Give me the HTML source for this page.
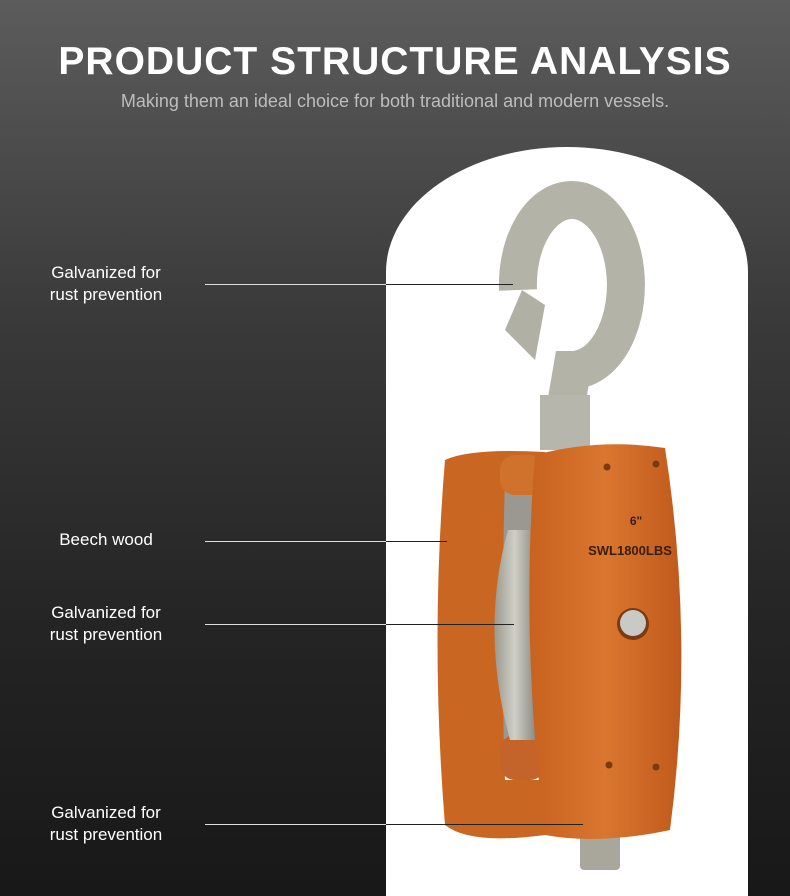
<!DOCTYPE html>
<html><head><style>
html,body{margin:0;padding:0;width:790px;height:896px;overflow:hidden}
body{position:relative;background:linear-gradient(180deg,#5c5c5c 0%,#3a3a3a 35%,#242424 70%,#181818 100%);font-family:"Liberation Sans",sans-serif}
h1{position:absolute;top:40px;left:0;width:790px;text-align:center;margin:0;color:#fff;font-size:39px;font-weight:bold;letter-spacing:1px}
.sub{position:absolute;top:91px;left:0;width:790px;text-align:center;color:#bdbdbd;font-size:18px}
.arch{position:absolute;left:386px;top:147px;width:362px;height:749px;background:#fff;border-radius:181px 181px 0 0/125px 125px 0 0}
.lab{position:absolute;color:#fff;font-size:17px;line-height:22px;text-align:center;width:150px;left:31px}
.ln{position:absolute;height:1px;background:#ddd}
.lb{position:absolute;height:1px;background:#222}
</style></head><body>
<h1>PRODUCT STRUCTURE ANALYSIS</h1>
<div class="sub">Making them an ideal choice for both traditional and modern vessels.</div>
<div class="arch"></div>
<svg width="790" height="896" style="position:absolute;left:0;top:0">
<defs>
<linearGradient id="w" x1="0" x2="1"><stop offset="0" stop-color="#c8621f"/><stop offset=".5" stop-color="#d9762f"/><stop offset="1" stop-color="#c05a1c"/></linearGradient>
<linearGradient id="m" x1="0" x2="1"><stop offset="0" stop-color="#9a9a90"/><stop offset=".5" stop-color="#cfcfc6"/><stop offset="1" stop-color="#8d8d85"/></linearGradient>
</defs>
<path d="M518 290 A54 85 0 1 1 572 370 L566 405" fill="none" stroke="#b3b3a8" stroke-width="38"/>
<path d="M505 330 L522 290 L545 305 L535 360 Z" fill="#b0b0a5"/>
<rect x="540" y="395" width="50" height="55" fill="#b6b6ac"/>
<rect x="580" y="820" width="40" height="50" rx="4" fill="#a9a69c"/>
<circle cx="603" cy="832" r="6" fill="#fff"/>
<rect x="500" y="490" width="45" height="250" fill="#9a9890"/>
<path d="M445 460 Q470 448 545 452 L545 480 L505 480 Q500 640 505 780 L545 780 L545 835 Q470 845 445 825 Q430 640 445 460Z" fill="#c96622"/>
<rect x="500" y="455" width="45" height="40" rx="15" fill="#d0712c"/>
<rect x="500" y="735" width="45" height="45" rx="15" fill="#c4642a"/>
<path d="M508 530 Q480 630 510 740 L535 740 L535 530Z" fill="url(#m)"/>
<path d="M535 455 Q600 438 665 448 Q695 640 670 830 Q600 845 545 835 Q520 640 535 455Z" fill="url(#w)"/>
<text x="636" y="525" font-size="12" font-weight="bold" fill="#3a1d0a" text-anchor="middle">6"</text>
<text x="630" y="555" font-size="13" font-weight="bold" fill="#3a1d0a" text-anchor="middle">SWL1800LBS</text>
<circle cx="633" cy="624" r="16" fill="#7a3a12"/><circle cx="633" cy="623" r="13" fill="#c9c9c5"/>
<circle cx="607" cy="467" r="3.5" fill="#7a3a12"/><circle cx="656" cy="464" r="3.5" fill="#7a3a12"/>
<circle cx="609" cy="765" r="3.5" fill="#7a3a12"/><circle cx="656" cy="767" r="3.5" fill="#7a3a12"/>
</svg>
<div class="lab" style="top:262px">Galvanized for<br>rust prevention</div>
<div class="lab" style="top:529px">Beech wood</div>
<div class="lab" style="top:602px">Galvanized for<br>rust prevention</div>
<div class="lab" style="top:802px">Galvanized for<br>rust prevention</div>
<div class="ln" style="top:284px;left:205px;width:181px"></div><div class="lb" style="top:284px;left:386px;width:127px"></div>
<div class="ln" style="top:541px;left:205px;width:181px"></div><div class="lb" style="top:541px;left:386px;width:61px"></div>
<div class="ln" style="top:624px;left:205px;width:181px"></div><div class="lb" style="top:624px;left:386px;width:128px"></div>
<div class="ln" style="top:824px;left:205px;width:181px"></div><div class="lb" style="top:824px;left:386px;width:197px"></div>
</body></html>
